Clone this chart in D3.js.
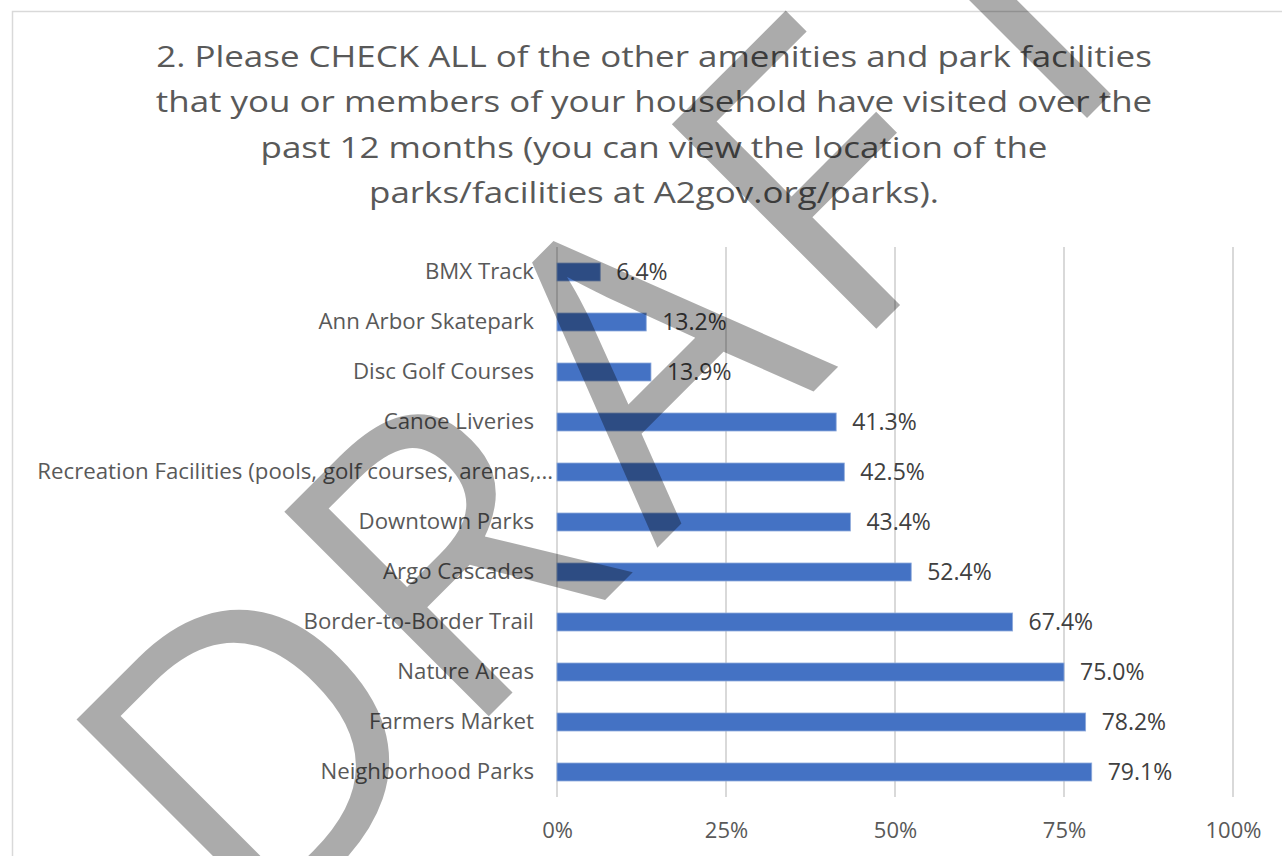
<!DOCTYPE html>
<html>
<head>
<meta charset="utf-8">
<script src="https://cdn.jsdelivr.net/npm/d3@7"></script>
<style>
  html, body { margin: 0; padding: 0; background: #fff; }
  svg { display: block; }
</style>
</head>
<body>
<svg id="chart" width="1282" height="856"></svg>
<script>
const titleLines = [
  "2. Please CHECK ALL of the other amenities and park facilities",
  "that you or members of your household  have visited over the",
  "past 12 months (you can view the location of the",
  "parks/facilities at A2gov.org/parks)."
];
const categories = [
  "BMX Track",
  "Ann Arbor Skatepark",
  "Disc Golf Courses",
  "Canoe Liveries",
  "Recreation Facilities (pools, golf courses, arenas,...",
  "Downtown Parks",
  "Argo Cascades",
  "Border-to-Border Trail",
  "Nature Areas",
  "Farmers Market",
  "Neighborhood Parks"
];
const values = [6.4, 13.2, 13.9, 41.3, 42.5, 43.4, 52.4, 67.4, 75.0, 78.2, 79.1];
const tickValues = [0, 25, 50, 75, 100];
const watermarkLetters = ["D", "R", "A", "F", "T"];

const svg = d3.select("#chart");
const FONT = "'Open Sans', 'Noto Sans', sans-serif";

// chart area border
svg.append("rect")
  .attr("x", 12.5).attr("y", 11.5)
  .attr("width", 1300).attr("height", 900)
  .attr("fill", "none").attr("stroke", "#d9d9d9").attr("stroke-width", 1.5);

// title (slightly widened to match the reference's wide lettering)
svg.append("g")
  .attr("transform", "translate(654,0) scale(1.165,1)")
  .selectAll("text").data(titleLines).join("text")
  .attr("x", 0)
  .attr("y", (d, i) => 67 + i * 45.3)
  .attr("text-anchor", "middle")
  .attr("font-family", FONT)
  .attr("font-size", 30)
  .attr("fill", "#595959")
  .text(d => d);

const x = d3.scaleLinear().domain([0, 100]).range([557, 1233]);
const y = d3.scaleBand().domain(categories).range([247, 797])
  .paddingInner(0.64).paddingOuter(0.32);

// gridlines
svg.append("g").selectAll("line").data(tickValues).join("line")
  .attr("x1", d => x(d)).attr("x2", d => x(d))
  .attr("y1", 247).attr("y2", 797)
  .attr("stroke", "#d9d9d9").attr("stroke-width", 2);

// x axis labels
const xAxis = d3.axisBottom(x).tickValues(tickValues)
  .tickFormat(d => d + "%").tickSize(0).tickPadding(0);
const gx = svg.append("g").attr("transform", "translate(0,838)").call(xAxis);
gx.select(".domain").remove();
gx.selectAll("text")
  .attr("dy", 0)
  .attr("font-family", FONT).attr("font-size", 22).attr("fill", "#595959");

// y axis labels
const yAxis = d3.axisLeft(y).tickSize(0).tickPadding(0);
const gy = svg.append("g").attr("transform", "translate(534,0)").call(yAxis);
gy.select(".domain").remove();
gy.selectAll(".tick text")
  .attr("font-family", FONT).attr("font-size", 21).attr("fill", "#595959")
  .attr("x", d => d.endsWith("...") ? 18 : 0)
  .attr("transform", "scale(1.06,1)");

// bars
svg.append("g").selectAll("rect").data(values).join("rect")
  .attr("x", x(0))
  .attr("y", (d, i) => y(categories[i]))
  .attr("width", d => x(d) - x(0))
  .attr("height", y.bandwidth())
  .attr("fill", "#4472c4")
  .attr("stroke", "#8eaadb").attr("stroke-width", 0.8);

// data labels
svg.append("g").selectAll("text").data(values).join("text")
  .attr("x", d => x(d) + 16)
  .attr("y", (d, i) => y(categories[i]) + y.bandwidth() / 2)
  .attr("dy", "0.36em")
  .attr("font-family", FONT).attr("font-size", 23).attr("fill", "#404040")
  .text(d => d.toFixed(1) + "%");

// watermark
const wm = svg.append("text")
  .attr("x", 253).attr("y", 952)
  .attr("transform", "rotate(-45,253,952)")
  .attr("font-family", FONT).attr("font-size", 405).attr("font-weight", 500)
  .attr("fill", "#000").attr("fill-opacity", 0.33);
const wmGaps = [0, 0, 28, 14, 34];
wm.selectAll("tspan").data(watermarkLetters).join("tspan")
  .attr("dx", (d, i) => wmGaps[i])
  .text(d => d);
</script>
</body>
</html>
